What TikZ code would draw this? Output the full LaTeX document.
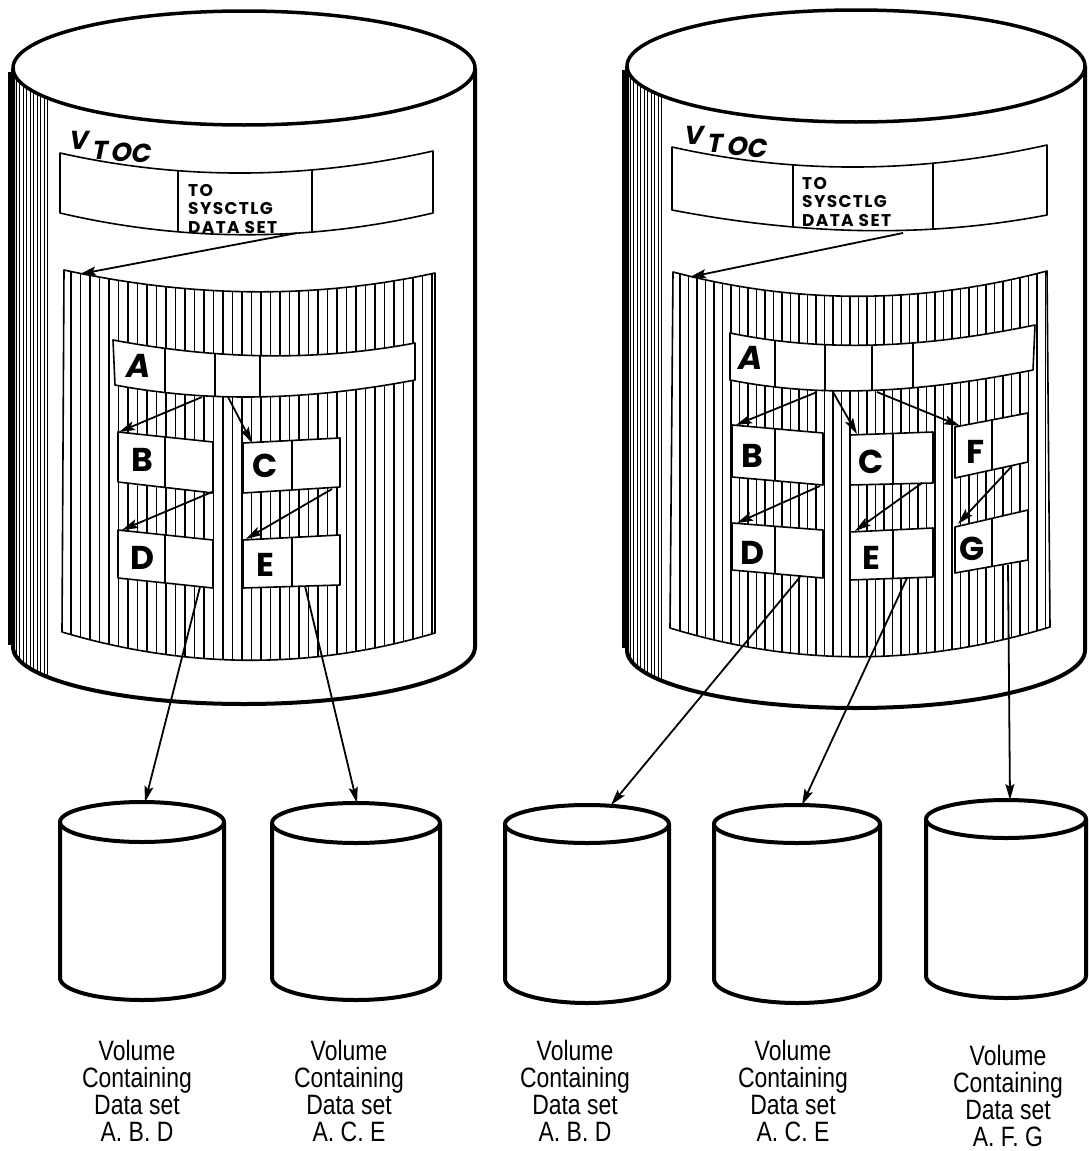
\documentclass[tikz,border=0pt]{standalone}
\usepackage{fontspec}
\setmainfont{Liberation Sans}
\usetikzlibrary{arrows.meta,calc}
\newfontfamily\labfont[FakeStretch=0.82]{Liberation Sans}
\newfontfamily\recfont{Poppins}
\newfontfamily\slfont[FakeSlant=0.2]{Poppins}
\newfontfamily\tofont[LetterSpace=8]{Poppins}
\newcommand\mkrec[2]{%
  \fill[white] #1 -- cycle;
  \begin{scope}\clip #1 -- cycle;
    \foreach \d in {#2} \draw[line width=1.4pt] (\d,0) -- (\d,1151);
  \end{scope}
  \draw[recline] #1 -- cycle;}
\newcommand\mkvol[6]{%
  \draw[line width=4pt, fill=white] ({#1-#2},#3) -- ({#1-#2},#5)
     arc[start angle=180,end angle=0,x radius=#2,y radius=#6] -- ({#1+#2},#3);
  \draw[line width=4pt, fill=white] (#1,#3) ellipse[x radius=#2,y radius=#4];}
\begin{document}
\begin{tikzpicture}[x=1pt,y=-1pt,line join=round,
  arr/.style={line width=1.8pt,-{Stealth[length=16pt,width=9pt,inset=3pt]}},
  hatch/.style={line width=1.1pt},
  bandhatch/.style={line width=0.8pt},
  recline/.style={line width=1.6pt},
  reclab/.style={font=\recfont\bfseries\fontsize{33}{33}\selectfont,inner sep=0pt},
  vtoc/.style={font=\slfont\bfseries\fontsize{26}{26}\selectfont,inner sep=0pt,anchor=base west},
  tolab/.style={font=\tofont\bfseries\fontsize{17}{18.5}\selectfont,align=left,inner sep=0pt,anchor=north west},
  lab/.style={font=\labfont\fontsize{28}{27}\selectfont,align=center,inner sep=0pt,anchor=north}]
\useasboundingbox (0,0) rectangle (1089,1151);

% ---------------- big left cylinder ----------------
\begin{scope}
  \clip (13,68) arc[start angle=180,end angle=0,x radius=231,y radius=57]
     -- (475,647) arc[start angle=0,end angle=180,x radius=231,y radius=57] -- cycle;
  \foreach \x in {16,19.5,...,48} \draw[bandhatch] (\x,60) -- (\x,720);
\end{scope}
\draw[line width=4pt] (13,68) -- (13,647)
   arc[start angle=180,end angle=0,x radius=231,y radius=57] -- (475,68);
\draw[line width=7pt] (11,72) -- (11,645);
\draw[line width=3.5pt] (244,68) ellipse[x radius=231,y radius=57];

% ---------------- big right cylinder ----------------
\begin{scope}
  \clip (627,66) arc[start angle=180,end angle=0,x radius=229,y radius=56]
     -- (1085,650) arc[start angle=0,end angle=180,x radius=229,y radius=58] -- cycle;
  \foreach \x in {630,633.5,...,662} \draw[bandhatch] (\x,60) -- (\x,720);
\end{scope}
\draw[line width=4pt] (627,66) -- (627,650)
   arc[start angle=180,end angle=0,x radius=229,y radius=58] -- (1085,66);
\draw[line width=7pt] (625,70) -- (625,648);
\draw[line width=3.5pt] (856,66) ellipse[x radius=229,y radius=56];

% ---------------- VTOC labels and boxes ----------------
\node[vtoc] (lv1) at (68,149) {V};
\node[vtoc] (lv2) at (91,159) {T};
\node[vtoc] (lv3) at (110,161) {O};
\node[vtoc] (lv4) at (130,162) {C};
\node[vtoc] (rv1) at (683,144) {V};
\node[vtoc] (rv2) at (706,152) {T};
\node[vtoc] (rv3) at (726,155) {O};
\node[vtoc] (rv4) at (746,157) {C};

\mkrec{(60,153) .. controls (184,181) and (309,179) .. (433,151) -- (433,213) .. controls (309,242) and (184,242) .. (60,213)}{178,312}
\mkrec{(672,147) .. controls (797,175) and (922,173) .. (1047,145) -- (1047,215) .. controls (922,239) and (797,234) .. (672,210)}{793,933}
\node[tolab] (lto) at (188,184) {TO\\SYSCTLG\\DATA SET};
\node[tolab] (rto) at (802,177) {TO\\SYSCTLG\\DATA SET};

% ---------------- catalog panels ----------------
\begin{scope}
  \clip (64,270) .. controls (188,297) and (311,300) .. (435,273) -- (435,633) .. controls (311,670) and (186,669) .. (62,632) -- cycle;
  \foreach \x in {71,80.5,...,435} \draw[hatch] (\x,250) -- (\x,700);
\end{scope}
\draw[line width=1.6pt] (64,270) .. controls (188,297) and (311,300) .. (435,273) -- (435,633) .. controls (311,670) and (186,669) .. (62,632) -- cycle;

\begin{scope}
  \clip (673,272) .. controls (798,305) and (922,304) .. (1047,271) -- (1050,627) .. controls (923,666) and (797,667) .. (670,628) -- cycle;
  \foreach \x in {680,688.5,...,1050} \draw[hatch] (\x,250) -- (\x,700);
\end{scope}
\draw[line width=1.6pt] (673,272) .. controls (798,305) and (922,304) .. (1047,271) -- (1050,627) .. controls (923,666) and (797,667) .. (670,628) -- cycle;

% ---------------- left records ----------------
\mkrec{(113,340) .. controls (214,359) and (314,362) .. (415,343) -- (415,380) .. controls (315,399) and (215,404) .. (115,385)}{165,215,260}
\mkrec{(118,432) -- (213,442) -- (213,493) -- (118,482)}{165}
\mkrec{(243,443) -- (340,438) -- (340,487) -- (243,493)}{292}
\mkrec{(118,530) -- (213,540) -- (213,588) -- (118,578)}{165}
\mkrec{(243,540) -- (340,535) -- (340,585) -- (243,588)}{292}
\node[reclab] (lA) at (139,366) {\itshape A};
\node[reclab] (lB) at (142,460) {B};
\node[reclab] (lC) at (265,466) {C};
\node[reclab] (lD) at (142,558) {D};
\node[reclab] (lE) at (265,565) {E};

% ---------------- right records ----------------
\mkrec{(730,333) .. controls (832,354) and (933,346) .. (1035,325) -- (1033,370) .. controls (932,390) and (831,400) .. (730,380)}{775,825,872,913}
\mkrec{(732,425) -- (823,433) -- (823,485) -- (732,477)}{775}
\mkrec{(850,435) -- (933,432) -- (933,483) -- (850,485)}{893}
\mkrec{(955,427) -- (1028,413) -- (1028,462) -- (955,478)}{992}
\mkrec{(732,523) -- (823,530) -- (823,578) -- (732,570)}{775}
\mkrec{(850,532) -- (933,528) -- (933,577) -- (850,580)}{893}
\mkrec{(955,527) -- (1028,510) -- (1028,560) -- (955,573)}{992}
\node[reclab] (rA) at (751,358) {\itshape A};
\node[reclab] (rB) at (752,456) {B};
\node[reclab] (rC) at (871,462) {C};
\node[reclab] (rF) at (976,452) {F};
\node[reclab] (rD) at (752,553) {D};
\node[reclab] (rE) at (871,558) {E};
\node[reclab] (rG) at (972,549) {G};

% ---------------- volumes ----------------
\mkvol{142}{82}{822}{20}{978}{22}
\mkvol{356}{84}{823}{20}{978}{22}
\mkvol{587}{82}{824}{19}{979}{24}
\mkvol{797}{83}{824}{19}{979}{24}
\mkvol{1006}{80}{819}{19}{976}{22}

% ---------------- connector end points ----------------
\coordinate (lVb) at (297,233); \coordinate (lPt) at (80,274);
\coordinate (lAb1) at (202,397); \coordinate (lBt) at (119,432);
\coordinate (lAb2) at (228,397); \coordinate (lCt) at (252,443);
\coordinate (lBb) at (212,492); \coordinate (lDt) at (122,530);
\coordinate (lCb) at (332,489); \coordinate (lEt) at (246,539);
\coordinate (lDb) at (200,587); \coordinate (v1) at (145,802);
\coordinate (lEb) at (305,586); \coordinate (v2) at (357,803);
\coordinate (rVb) at (903,233); \coordinate (rPt) at (690,277);
\coordinate (rAb1) at (817,392); \coordinate (rBt) at (736,425);
\coordinate (rAb2) at (833,392); \coordinate (rCt) at (857,434);
\coordinate (rAb3) at (877,392); \coordinate (rFt) at (960,426);
\coordinate (rBb) at (820,486); \coordinate (rDt) at (737,523);
\coordinate (rCb) at (922,483); \coordinate (rEt) at (855,531);
\coordinate (rFb) at (1012,466); \coordinate (rGt) at (958,524);
\coordinate (rDb) at (800,577); \coordinate (v3) at (611,805);
\coordinate (rEb) at (907,578); \coordinate (v4) at (802,805);
\coordinate (rGb) at (1008,565); \coordinate (v5) at (1010,800);

\foreach \a/\b in {lVb/lPt,lAb1/lBt,lAb2/lCt,lBb/lDt,lCb/lEt,lDb/v1,lEb/v2,
  rVb/rPt,rAb1/rBt,rAb2/rCt,rAb3/rFt,rBb/rDt,rCb/rEt,rFb/rGt,rDb/v3,rEb/v4,rGb/v5}
  \draw[arr] (\a) -- (\b);

% ---------------- labels ----------------
\node[lab] (t1) at (137,1040) {Volume\\Containing\\Data set\\A. B. D};
\node[lab] (t2) at (349,1040) {Volume\\Containing\\Data set\\A. C. E};
\node[lab] (t3) at (575,1040) {Volume\\Containing\\Data set\\A. B. D};
\node[lab] (t4) at (793,1040) {Volume\\Containing\\Data set\\A. C. E};
\node[lab] (t5) at (1008,1045) {Volume\\Containing\\Data set\\A. F. G};
\end{tikzpicture}
\end{document}
